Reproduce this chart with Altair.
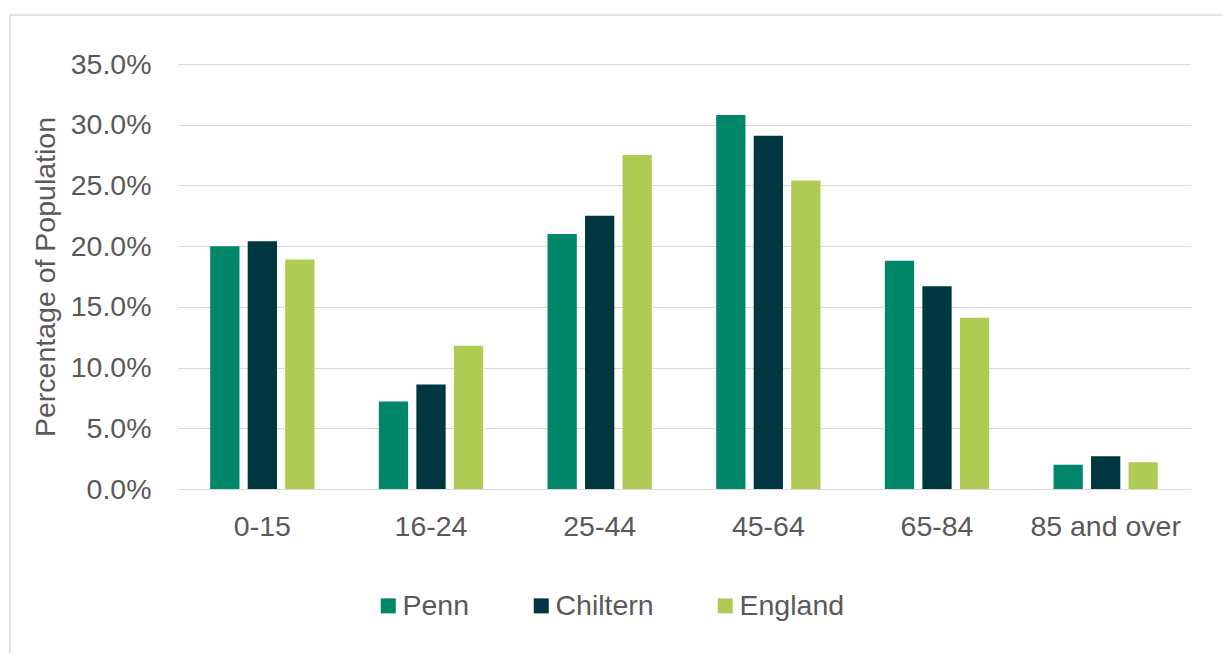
import altair as alt
import pandas as pd

age_groups = ["0-15", "16-24", "25-44", "45-64", "65-84", "85 and over"]
series = ["Penn", "Chiltern", "England"]
penn = [20.0, 7.2, 21.0, 30.8, 18.8, 2.0]
chiltern = [20.4, 8.6, 22.5, 29.1, 16.7, 2.7]
england = [18.9, 11.8, 27.5, 25.4, 14.1, 2.2]
colors = ["#00876A", "#00363F", "#AFCB54"]
y_ticks = [0, 5, 10, 15, 20, 25, 30, 35]

rows = []
for name, vals in zip(series, [penn, chiltern, england]):
    for g, v in zip(age_groups, vals):
        rows.append({"Age": g, "Area": name, "Value": v})
df = pd.DataFrame(rows)

FONT = "Liberation Sans"
TXT = "#595959"
FS = 28.5

border = alt.Chart(pd.DataFrame({"b": [0]})).mark_rect(
    fillOpacity=0, stroke="#d9d9d9", strokeWidth=1.5
).encode(
    x=alt.value(-168), x2=alt.value(1100), y=alt.value(-49), y2=alt.value(650)
)

bars = alt.Chart(df).mark_bar().encode(
    x=alt.X(
        "Age:N",
        sort=age_groups,
        scale=alt.Scale(paddingInner=0, paddingOuter=0),
        axis=alt.Axis(
            title=None, labelAngle=0, labelFontSize=FS, labelColor=TXT,
            labelFont=FONT, labelPadding=23.5, ticks=False, tickSize=0,
            domain=False, grid=False,
        ),
    ),
    xOffset=alt.XOffset("Area:N", sort=series,
                        scale=alt.Scale(paddingInner=0.219, paddingOuter=0.858)),
    y=alt.Y(
        "Value:Q",
        scale=alt.Scale(domain=[0, 35], nice=False),
        axis=alt.Axis(
            values=y_ticks,
            labelExpr="format(datum.value, '.1f') + '%'",
            title="Percentage of Population",
            titleFontSize=FS, titleFont=FONT, titleColor=TXT, titleFontWeight="normal",
            titleAngle=270, titleX=-124, titleY=212.5, titleAlign="center",
            titleBaseline="alphabetic",
            labelFontSize=FS, labelFont=FONT, labelColor=TXT, labelPadding=27,
            ticks=False, tickSize=0, domain=False,
            grid=True, gridColor="#d9d9d9", gridWidth=1,
        ),
    ),
    color=alt.Color(
        "Area:N",
        sort=series,
        scale=alt.Scale(domain=series, range=colors),
        legend=alt.Legend(
            title=None, orient="none", legendX=196, legendY=527.5,
            direction="horizontal", symbolType="square", symbolSize=225,
            symbolStrokeWidth=0, labelFontSize=FS, labelFont=FONT,
            labelColor=TXT, labelOffset=0, columnPadding=57,
        ),
    ),
)

chart = alt.layer(border, bars).properties(
    width=1012,
    height=425,
    autosize=alt.AutoSizeParams(type="none"),
    padding={"left": 178, "top": 64, "right": 33, "bottom": 164},
).configure_view(strokeWidth=0)

chart.save("out.html", embed_options={"renderer": "svg", "actions": False})
